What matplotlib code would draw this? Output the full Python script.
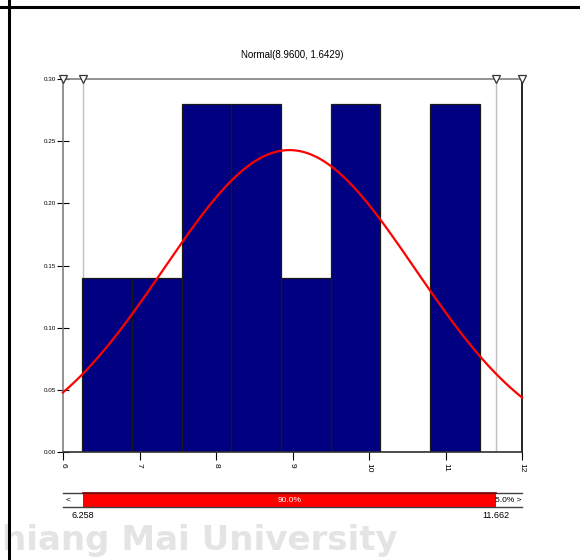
import numpy as np
import matplotlib
matplotlib.use("Agg")
import matplotlib.pyplot as plt
from matplotlib.lines import Line2D

plt.rcParams['font.family'] = ['Liberation Sans', 'DejaVu Sans']

# ---- data ----
bin_edges = [6.25, 6.90, 7.55, 8.20, 8.85, 9.50, 10.15, 10.80, 11.45]
densities = [0.14, 0.14, 0.28, 0.28, 0.14, 0.28, 0.00, 0.28]
mu, sigma = 8.96, 1.6429
low_val, high_val = 6.258, 11.662
mid_pct, right_pct = "90.0%", "5.0%"
x_ticks = [6, 7, 8, 9, 10, 11, 12]
y_ticks = [0.00, 0.05, 0.10, 0.15, 0.20, 0.25, 0.30]
title = "Normal(8.9600, 1.6429)"
watermark = "Chiang Mai University"

W, H = 580, 560
fig = plt.figure(figsize=(W / 100, H / 100), dpi=100)
fig.patch.set_facecolor('white')

# watermark (faint, partly off the left edge)
fig.text(398 / W, 1 - 550 / H, watermark, ha='right', va='baseline', fontsize=24.5,
         fontweight='bold', family='DejaVu Sans', color='#e4e4e4', zorder=0)

# page frame lines
fig.add_artist(Line2D([0, 1], [1 - 7 / H, 1 - 7 / H], color='black', lw=2.2))
fig.add_artist(Line2D([8.5 / W, 8.5 / W], [0, 1], color='black', lw=2.2))

# ---- main axes ----
x0, x1 = 63, 522
ytop, ybot = 79, 452
ax = fig.add_axes([x0 / W, 1 - ybot / H, (x1 - x0) / W, (ybot - ytop) / H])
ax.set_xlim(6, 12)
ax.set_ylim(0, 0.30)
ax.patch.set_alpha(0)

lefts = bin_edges[:-1]
widths = np.diff(bin_edges)
ax.bar(lefts, densities, width=widths, align='edge', color='#000080',
       edgecolor='#1a1a1a', linewidth=0.9, zorder=2)

ax.axvline(low_val, color='#c0c0c0', lw=1.0, zorder=1)
ax.axvline(high_val, color='#c0c0c0', lw=1.0, zorder=1)

xs = np.linspace(6, 12, 400)
pdf = np.exp(-0.5 * ((xs - mu) / sigma) ** 2) / (sigma * np.sqrt(2 * np.pi))
ax.plot(xs, pdf, color='red', lw=1.6, zorder=3, clip_on=False)

for s, c in [('left', '#808080'), ('top', '#808080'), ('right', 'black'), ('bottom', '#303030')]:
    ax.spines[s].set_color(c)
    ax.spines[s].set_linewidth(1.2)

ax.set_yticks(y_ticks)
ax.set_yticklabels([f"{v:.2f}" for v in y_ticks], fontsize=4.5)
ax.set_xticks(x_ticks)
ax.set_xticklabels([str(v) for v in x_ticks], fontsize=6, rotation=270)
ax.tick_params(axis='y', direction='inout', length=8, width=0.8, pad=1, color='black')
ax.tick_params(axis='x', direction='out', length=6, width=0.8, pad=2, color='black')

# triangle markers at top
for xv in [6, low_val, high_val, 12]:
    ax.plot([xv], [0.30], marker='v', markersize=6, markerfacecolor='white',
            markeredgecolor='#333333', markeredgewidth=0.9, clip_on=False, zorder=5)

fig.text((x0 + x1) / 2 / W, 1 - 55 / H, title, ha='center', va='center', fontsize=7)

# ---- bottom percentile bar ----
by0, by1 = 493, 507
ax2 = fig.add_axes([x0 / W, 1 - by1 / H, (x1 - x0) / W, (by1 - by0) / H])
ax2.set_xlim(6, 12)
ax2.set_ylim(0, 1)
ax2.axis('off')
ax2.barh(0.5, high_val - low_val, left=low_val, height=1, color='red', edgecolor='none')
ax2.plot([6, 12], [1, 1], color='#404040', lw=1.0, clip_on=False)
ax2.plot([low_val, high_val], [1, 1], color='#800000', lw=1.2, clip_on=False)
ax2.plot([6, 12], [0, 0], color='#404040', lw=1.0, clip_on=False)
ax2.text(6.03, 0.5, '<', ha='left', va='center', fontsize=6)
ax2.text(11.99, 0.5, right_pct + ' >', ha='right', va='center', fontsize=6)
ax2.text((low_val + high_val) / 2, 0.5, mid_pct, ha='center', va='center',
         fontsize=6, color='white')
ax2.text(low_val, -0.25, f"{low_val:.3f}", ha='center', va='top', fontsize=6.5)
ax2.text(high_val, -0.25, f"{high_val:.3f}", ha='center', va='top', fontsize=6.5)

fig.savefig('out.png', dpi=100)
